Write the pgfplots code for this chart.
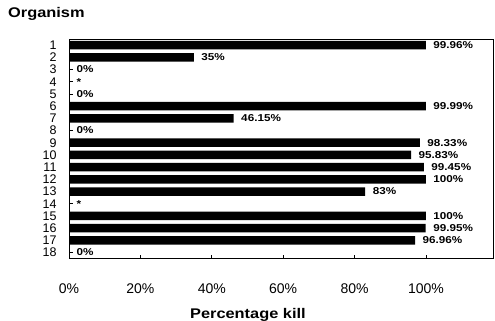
\documentclass[border=0pt]{standalone}
\usepackage{fontspec}
\setmainfont{Liberation Sans}
\newfontfamily\bw{Liberation Sans}[FakeStretch=1.17]
\usepackage{pgfplots}
\pgfplotsset{compat=1.18}
\begin{document}
\begin{tikzpicture}[x=1pt,y=1pt]
\useasboundingbox (0,0) rectangle (495,321);
\begin{axis}[
  at={(69pt,63pt)}, anchor=south west,
  scale only axis, width=424pt, height=219pt,
  xbar, bar width=8.5pt,
  y dir=reverse,
  xmin=0, xmax=118.8, ymin=0.5, ymax=18.45,
  ytick={1,...,18},
  xtick={0,20,40,60,80,100},
  xticklabels={0\%,20\%,40\%,60\%,80\%,100\%},
  xtick pos=bottom, ytick pos=left,
  tick align=inside,
  major tick length=3.5pt,
  tick style={line width=0.6pt, black},
  axis line style={line width=0.8pt},
  /pgf/number format/assume math mode=true,
  xticklabel style={font=\fontsize{14}{14}\selectfont, yshift=-22pt},
  yticklabel style={font=\fontsize{12.5}{12}\selectfont, xshift=-9pt},
  xlabel={\bw\bfseries Percentage kill},
  xlabel style={at={(axis description cs:0.422,0)}, anchor=base, yshift=-60pt, font=\fontsize{14}{14}\selectfont},
  point meta=explicit symbolic,
  nodes near coords,
  nodes near coords style={anchor=west, xshift=4pt, font=\bw\bfseries\fontsize{10}{10}\selectfont},
]
\addplot[fill=black, draw=none] coordinates {
  (99.96,1) [99.96\%]
  (35,2) [35\%]
  (0,3) [0\%]
  (0,4) [*]
  (0,5) [0\%]
  (99.99,6) [99.99\%]
  (46.15,7) [46.15\%]
  (0,8) [0\%]
  (98.33,9) [98.33\%]
  (95.83,10) [95.83\%]
  (99.45,11) [99.45\%]
  (100,12) [100\%]
  (83,13) [83\%]
  (0,14) [*]
  (100,15) [100\%]
  (99.95,16) [99.95\%]
  (96.96,17) [96.96\%]
  (0,18) [0\%]
};
\end{axis}
\node[anchor=base west, font=\bw\bfseries\fontsize{14}{14}\selectfont, inner sep=0pt] at (8,303) {Organism};
\end{tikzpicture}
\end{document}
